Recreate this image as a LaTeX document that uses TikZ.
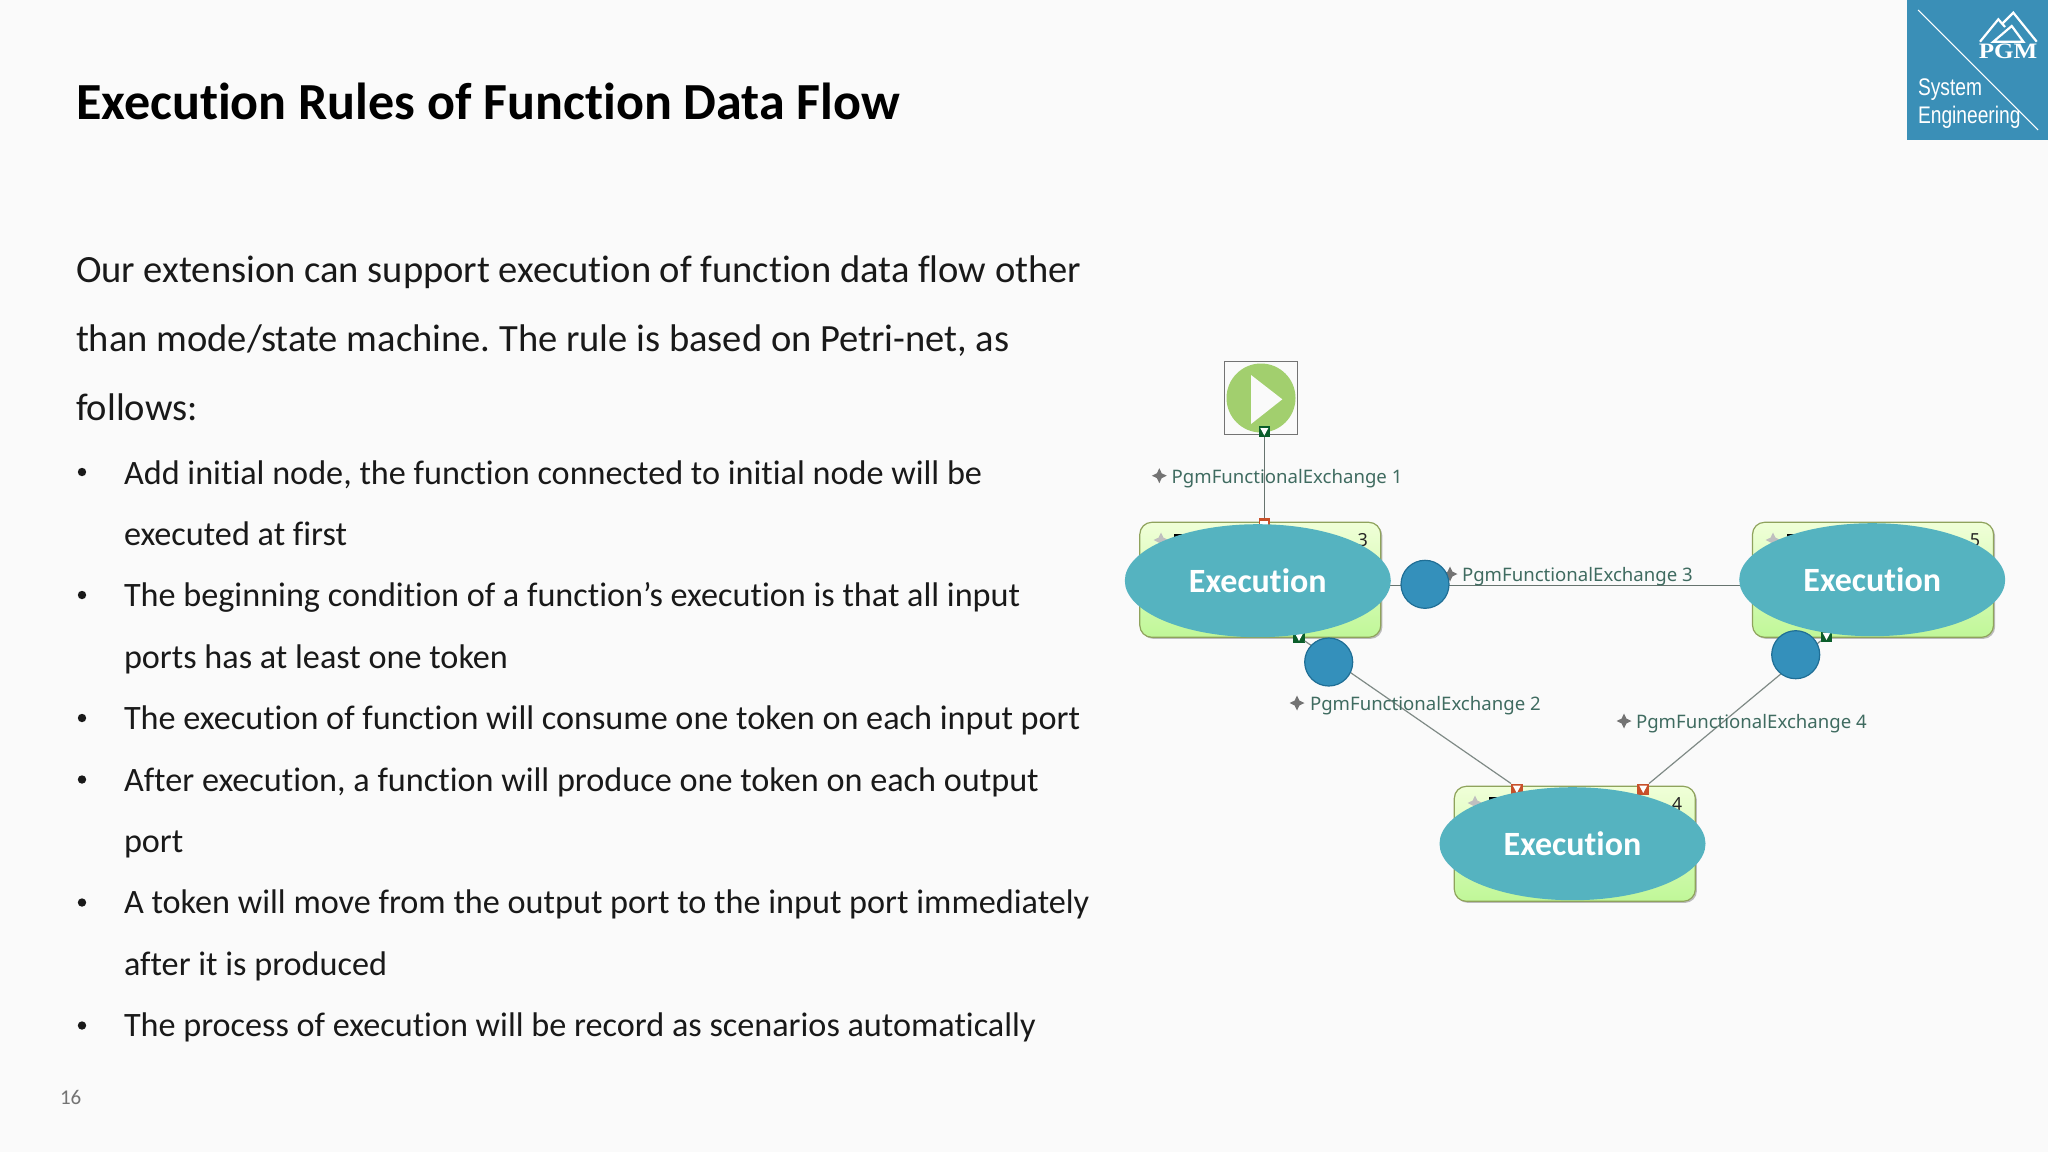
\documentclass[tikz,border=0pt]{standalone}
\usepackage{fontspec}
\setmainfont{Carlito}[Ligatures={NoCommon}]
\newfontfamily\labelfont{Noto Sans}
\newfontfamily\logofont{Liberation Sans}
\newfontfamily\logoserif{Liberation Serif}
\usetikzlibrary{shapes.geometric,shadows,calc}
\definecolor{pagebg}{HTML}{FAFAFA}
\definecolor{exec}{HTML}{55B3C0}
\definecolor{tok}{HTML}{3490BB}
\definecolor{tokedge}{HTML}{1F6E95}
\definecolor{logo}{HTML}{3A8FB7}
\definecolor{flow}{HTML}{7F8A86}
\definecolor{flowdark}{HTML}{66736E}
\definecolor{lab}{HTML}{3F6B60}
\definecolor{boxedge}{HTML}{8FA35C}
\definecolor{boxtop}{HTML}{F0FFD8}
\definecolor{boxbot}{HTML}{C0F798}
\definecolor{portg}{HTML}{0B5E2B}
\definecolor{portr}{HTML}{C8502A}
\definecolor{play}{HTML}{A2CF6E}
\tikzset{
  every node/.style={inner sep=0pt,outer sep=0pt},
  title/.style={anchor=base west,font=\fontsize{26.03}{30}\selectfont\bfseries,text=black},
  lead/.style={anchor=base west,font=\fontsize{19.27}{22}\selectfont,text=black!90},
  item/.style={anchor=base west,font=\fontsize{17.1}{20}\selectfont,text=black!90},
  bul/.style={circle,fill=black!90,minimum size=4.2pt},
  func/.style={draw=boxedge,line width=0.6pt,rounded corners=6pt,top color=boxtop,bottom color=boxbot,
    minimum width=120.5pt,minimum height=57.5pt,drop shadow={shadow xshift=0.8pt,shadow yshift=-0.8pt,opacity=0.25,fill=black}},
  exe/.style={ellipse,fill=exec,minimum width=133pt,minimum height=56.5pt,text=white,
    font=\fontsize{17}{20}\selectfont\bfseries},
  token/.style={circle,fill=tok,draw=tokedge,line width=0.6pt,minimum size=24pt},
  flowline/.style={draw=flow,line width=0.6pt},
  flowheavy/.style={draw=flowdark,line width=0.7pt},
  xlabel/.style={anchor=base west,font=\labelfont\fontsize{9.3}{11}\selectfont,text=lab},
  spark/.style={star,star points=4,star point ratio=2.2,fill=black!55,minimum size=7.5pt},
  sparkpale/.style={star,star points=4,star point ratio=2.2,fill=black!25,minimum size=7.5pt},
  idx/.style={font=\labelfont\fontsize{9}{11}\selectfont,text=black!85},
  port/.style={minimum width=5.8pt,minimum height=5.5pt},
  portin/.style={port,fill=portr},
  portout/.style={port,fill=portg},
}
\begin{document}
\frenchspacing
\begin{tikzpicture}[x=0.5pt,y=-0.5pt]
\useasboundingbox (0,0) rectangle (2048,1152);
\fill[pagebg] (0,0) rectangle (2048,1152);

% logo
\fill[logo] (1907,0) rectangle (2048,140);
\coordinate (la) at (1918,10); \coordinate (lb) at (2038,130);
\draw[white,line width=0.55pt] (la) -- (lb);
\draw[white,line width=1.1pt,line join=miter] (1980,41.7) -- (1998.3,19.3) -- (2005,27) (2003,23) -- (2013.3,12.7) -- (2036.7,41.7);
\draw[white,line width=1.1pt] (1993.3,41.7) -- (2011.7,26) -- (2023.3,41.7) -- cycle;
\node[anchor=base,text=white,font=\logoserif\bfseries\fontsize{11}{11}\selectfont,xscale=1.14] (lpgm) at (2008,58) {PGM};
\node[anchor=base west,text=white,font=\logofont\fontsize{12}{14}\selectfont,xscale=0.8] (lsys) at (1918,95.7) {System};
\node[anchor=base west,text=white,font=\logofont\fontsize{12}{14}\selectfont,xscale=0.8] (leng) at (1918,123) {Engineering};

% title and text
\node[title] (t) at (76,119) {Execution Rules of Function Data Flow};
\node[lead] (l1) at (76,282) {Our extension can support execution of function data flow other};
\node[lead] (l2) at (76,351) {than mode/state machine. The rule is based on Petri-net, as};
\node[lead] (l3) at (76,420) {follows:};
\foreach \nm/\y in {b1/472,b2/595,b3/718,b4/779.5,b5/902.5,b6/1025.5}{\node[bul] (\nm) at (82,\y) {};}
\node[item] (i1) at (124,484) {Add initial node, the function connected to initial node will be};
\node[item] (i2) at (124,545.5) {executed at first};
\node[item] (i3) at (124,606.8) {The beginning condition of a function’s execution is that all input};
\node[item] (i4) at (124,668.2) {ports has at least one token};
\node[item] (i5) at (124,729.5) {The execution of function will consume one token on each input port};
\node[item] (i6) at (124,791) {After execution, a function will produce one token on each output};
\node[item] (i7) at (124,852.3) {port};
\node[item] (i8) at (124,913.6) {A token will move from the output port to the input port immediately};
\node[item] (i9) at (124,975) {after it is produced};
\node[item] (i10) at (124,1036.5) {The process of execution will be record as scenarios automatically};
\node[anchor=base west,font=\fontsize{10.5}{12}\selectfont,text=black!55] (pg) at (60,1104) {16};

% function boxes
\node[func] (f3) at (1260.3,579.8) {};
\node[func] (f5) at (1873,579.8) {};
\node[func] (f4) at (1574.8,843.8) {};
\node[sparkpale] (s3) at (1161,540) {};
\node[sparkpale] (s5) at (1773,540) {};
\node[sparkpale] (s4) at (1475,803) {};
\fill[black] (1174,534) rectangle (1183,537.5);
\fill[black] (1787,534) rectangle (1796,537.5);
\fill[black] (1489,797) rectangle (1498,800.5);
\node[idx] (n3) at (1362.7,540) {3};
\node[idx] (n5) at (1975,540) {5};
\node[idx] (n4) at (1677,804) {4};

% start node
\node[draw=black!55,line width=0.6pt,minimum size=36.5pt] (startbox) at (1260.7,398) {};
\node[circle,fill=play,minimum size=34.5pt] (startc) at (1261,398) {};
\fill[pagebg] (1251,375) -- (1282.3,399.3) -- (1251,424) -- cycle;

% ports
\node[portin] (p3in) at (1264.3,523) {};
\node[portout] (p0) at (1264.3,431.5) {};
\node[portout] (p3b) at (1299,637) {};
\node[portout] (p5b) at (1826.5,636) {};
\node[portin] (p4a) at (1516.8,789) {};
\node[portin] (p4b) at (1643.2,789) {};
\fill[white] ($(p3in)+(-4,-2)$) rectangle ($(p3in)+(4,4)$);
\foreach \p in {p0,p3b,p5b,p4a,p4b}{\fill[white] ($(\p)+(-4,-3.5)$) -- ($(\p)+(4,-3.5)$) -- ($(\p)+(0,4)$) -- cycle;}

% connectors
\draw[flowheavy] (p0.south) -- (p3in.north);
\draw[flowheavy] (f3.east |- 0,585.7) coordinate (c3) -- (f5.west |- 0,585.7) coordinate (c5);
\draw[flowline] (p3b) -- (p4a.north west);
\draw[flowline] (p5b) -- (p4b.north east);

% exchange labels
\node[spark] (d1) at (1159.3,475.7) {};
\node[xlabel] (x1) at (1171.7,483) {PgmFunctionalExchange 1};
\node[spark] (d3) at (1450,574) {};
\node[xlabel] (x3) at (1462,581.5) {PgmFunctionalExchange 3};
\node[spark] (d2) at (1297,703) {};
\node[xlabel] (x2) at (1310,710.5) {PgmFunctionalExchange 2};
\node[spark] (d4) at (1624,721) {};
\node[xlabel] (x4) at (1636,728) {PgmFunctionalExchange 4};

% overlays
\node[exe] (e3) at (1257.8,580.7) {Execution};
\node[exe] (e5) at (1872.2,579.7) {Execution};
\node[exe] (e4) at (1572.5,843.7) {Execution};
\node[token] (ta) at (1425,584.3) {};
\node[token] (tb) at (1328.7,662) {};
\node[token] (tc) at (1795.7,654.7) {};
\end{tikzpicture}
\end{document}
